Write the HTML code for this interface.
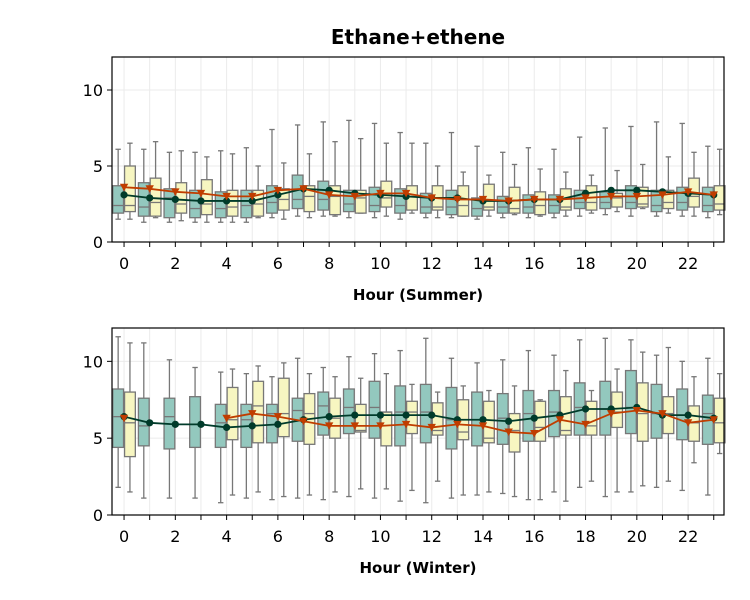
<!DOCTYPE html>
<html><head><meta charset="utf-8"><style>
html,body{margin:0;padding:0;background:#fff;}
svg{display:block;font-family:"DejaVu Sans","Liberation Sans",sans-serif;}
</style></head><body>
<svg id="chart" width="750" height="600" viewBox="0 0 750 600">
<text x="418" y="44" text-anchor="middle" font-size="20" font-weight="bold">Ethane+ethene</text>
</svg>
<script>
const hours = [0,1,2,3,4,5,6,7,8,9,10,11,12,13,14,15,16,17,18,19,20,21,22,23];
const yTicks = [0,5,10];
const xTickLabels = [0,2,4,6,8,10,12,14,16,18,20,22];
// [low, q1, median, q3, high]
const summerTealBoxes = [[1.5,1.9,2.4,3.7,6.1],[1.3,1.7,2.3,3.9,6.1],[1.3,1.6,2.9,3.5,5.9],[1.3,1.6,2.2,3.4,5.9],[1.3,1.6,2.2,3.3,6.0],[1.3,1.6,2.4,3.4,6.2],[1.6,1.9,2.6,3.7,7.4],[1.7,2.2,2.8,4.4,7.7],[1.7,2.1,2.8,4.0,7.9],[1.6,2.0,2.5,3.4,8.0],[1.6,2.0,2.4,3.6,7.8],[1.5,1.9,2.4,3.5,7.2],[1.6,1.9,2.3,3.2,6.5],[1.6,1.8,2.3,3.4,7.2],[1.5,1.7,2.2,2.9,6.3],[1.6,1.9,2.3,3.0,5.9],[1.6,1.9,2.3,3.1,6.2],[1.6,1.9,2.4,3.1,6.1],[1.7,2.2,2.6,3.4,6.9],[1.8,2.2,2.6,3.3,7.5],[1.7,2.2,2.6,3.7,7.6],[1.7,2.0,2.4,3.4,7.9],[1.7,2.1,2.6,3.6,7.8],[1.6,2.0,2.4,3.6,6.3]];
const summerYellowBoxes = [[1.5,2.0,2.4,5.0,6.5],[1.6,1.7,2.6,4.2,6.6],[1.4,1.9,2.5,3.9,6.0],[1.3,1.8,2.5,4.1,5.6],[1.3,1.7,2.3,3.4,5.8],[1.6,1.7,2.5,3.4,5.0],[1.5,2.1,2.8,3.5,5.2],[1.6,2.0,3.0,3.7,5.8],[1.7,1.8,3.0,3.7,6.6],[1.9,1.9,2.9,3.4,6.8],[1.7,2.3,2.9,4.0,6.5],[1.9,2.1,3.0,3.7,6.5],[1.6,2.1,2.3,3.7,5.0],[1.7,1.7,2.4,3.7,4.6],[1.7,2.1,2.3,3.8,4.4],[1.8,1.9,2.2,3.6,5.1],[1.7,1.8,2.4,3.3,4.8],[1.7,2.1,2.3,3.5,4.6],[1.9,2.1,2.6,3.7,4.4],[2.0,2.3,2.9,3.2,4.7],[2.2,2.3,2.5,3.6,5.1],[1.9,2.2,2.6,3.4,5.6],[1.7,2.3,3.0,4.2,5.9],[1.8,2.1,2.5,3.7,6.1]];
const summerTealMeans = [3.1,2.9,2.8,2.7,2.7,2.7,3.1,3.5,3.4,3.2,3.1,3.0,2.9,2.9,2.7,2.7,2.8,2.8,3.2,3.4,3.4,3.3,3.2,3.1];
const summerRedMeans = [3.6,3.5,3.3,3.2,3.0,3.0,3.4,3.5,3.1,3.0,3.2,3.2,2.9,2.8,2.8,2.7,2.8,2.8,2.9,3.0,3.0,3.1,3.3,3.1];
const winterTealBoxes = [[1.8,4.4,6.4,8.2,11.6],[1.1,4.5,5.8,7.6,11.2],[1.1,4.3,6.4,7.6,10.1],[1.1,4.4,5.9,7.7,9.6],[0.8,4.4,6.0,7.2,9.3],[1.1,4.4,6.2,7.2,9.2],[1.0,4.7,6.6,7.2,9.0],[1.1,4.8,6.8,7.6,10.2],[1.0,5.2,7.1,8.0,9.6],[1.2,5.3,7.0,8.2,10.3],[1.1,5.0,7.0,8.7,10.5],[0.9,4.5,6.7,8.4,10.7],[0.8,4.7,6.7,8.5,11.5],[1.1,4.3,6.2,8.3,10.2],[1.3,4.5,6.2,8.0,9.9],[1.4,4.6,6.3,7.9,10.1],[1.0,4.8,6.6,8.1,10.7],[1.5,5.1,6.7,8.1,10.4],[1.8,5.2,7.0,8.6,11.4],[1.2,5.2,6.9,8.7,11.5],[1.5,5.3,7.0,9.4,11.4],[1.8,5.0,6.6,8.5,10.4],[1.6,4.9,6.5,8.2,10.0],[1.3,4.6,6.6,7.8,10.2]];
const winterYellowBoxes = [[1.5,3.8,6.0,8.0,11.2],null,null,null,[1.3,4.9,6.2,8.3,9.5],[1.5,4.7,7.1,8.7,9.7],[1.2,5.1,6.6,8.9,9.9],[1.3,4.6,6.6,7.9,9.2],[1.5,5.0,6.3,7.6,9.0],[1.7,5.4,5.5,7.2,8.9],[1.7,4.5,6.7,6.7,9.2],[1.6,5.3,6.7,7.4,8.5],[2.2,5.2,5.5,7.3,8.0],[1.3,4.9,5.4,7.5,8.4],[1.5,4.7,5.0,7.4,8.1],[1.2,4.1,5.5,6.6,8.4],[1.0,4.8,5.7,7.4,7.5],[0.9,5.2,5.5,7.7,9.4],[2.2,5.2,5.8,7.4,8.1],[1.5,5.7,6.7,8.0,9.5],[1.9,4.8,6.6,8.6,10.6],[2.2,5.3,6.6,7.7,10.9],[3.4,4.8,6.0,7.1,9.0],[4.0,4.7,6.0,7.6,9.2]];
const winterTealMeans = [6.4,6.0,5.9,5.9,5.7,5.8,5.9,6.2,6.4,6.5,6.5,6.5,6.5,6.2,6.2,6.1,6.3,6.5,6.9,6.9,7.0,6.5,6.5,6.3];
const winterRedMeans = [6.3,null,null,null,6.3,6.6,6.4,6.1,5.8,5.8,5.8,5.9,5.7,5.9,5.8,5.4,5.3,6.2,5.9,6.6,6.8,6.6,6.0,6.2];

const NS = 'http://www.w3.org/2000/svg';
const svg = document.getElementById('chart');
function mk(tag, attrs, parent){ const e=document.createElementNS(NS,tag); for(const k in attrs) e.setAttribute(k,attrs[k]); (parent||svg).appendChild(e); return e; }

function panel(p){
  const L=112,R=724,T=p.top,B=p.bottom;
  const xMin=-0.47,xMax=23.4,yMax=12.17;
  const X=h=>L+(h-xMin)/(xMax-xMin)*(R-L);
  const Y=v=>B-v/yMax*(B-T);
  const g=mk('g',{});
  
  
  hours.forEach(h=>{ mk('line',{x1:X(h),x2:X(h),y1:T,y2:B,stroke:'#ebebeb','stroke-width':1},g); });
  yTicks.forEach(v=>{ mk('line',{x1:L,x2:R,y1:Y(v),y2:Y(v),stroke:'#ebebeb','stroke-width':1},g); });
  const bw=(X(0.42)-X(0));
  function box(d,c,fill,nm){
    if(!d) return;
    const bg=mk('g',{},g);
    
    
    const st={stroke:'#777','stroke-width':1.3};
    mk('line',Object.assign({x1:c,x2:c,y1:Y(d[0]),y2:Y(d[1])},st),bg);
    mk('line',Object.assign({x1:c,x2:c,y1:Y(d[3]),y2:Y(d[4])},st),bg);
    mk('line',Object.assign({x1:c-bw/4,x2:c+bw/4,y1:Y(d[0]),y2:Y(d[0])},st),bg);
    mk('line',Object.assign({x1:c-bw/4,x2:c+bw/4,y1:Y(d[4]),y2:Y(d[4])},st),bg);
    mk('rect',Object.assign({x:c-bw/2,y:Y(d[3]),width:bw,height:Y(d[1])-Y(d[3]),fill:fill},st),bg);
    mk('line',Object.assign({x1:c-bw/2,x2:c+bw/2,y1:Y(d[2]),y2:Y(d[2])},st),bg);
  }
  hours.forEach((h,i)=>{
    box(p.teal[i],X(h-0.23),'#93c8be','teal-box-h'+h);
    box(p.yellow[i],X(h+0.23),'#f7f6c1','yellow-box-h'+h);
  });
  function series(vals,color,marker,nm){
    const sg=mk('g',{},g);
    
    
    let seg=[];
    const segs=[];
    vals.forEach((v,i)=>{ if(v==null){ if(seg.length) segs.push(seg); seg=[]; } else seg.push([X(hours[i]),Y(v)]); });
    if(seg.length) segs.push(seg);
    segs.forEach(s=>{ if(s.length>1) mk('polyline',{points:s.map(q=>q.join(',')).join(' '),fill:'none',stroke:color,'stroke-width':1.8},sg); });
    vals.forEach((v,i)=>{
      if(v==null) return;
      const x=X(hours[i]),y=Y(v);
      let m;
      if(marker==='circle') m=mk('circle',{cx:x,cy:y,r:3.6,fill:color},sg);
      else m=mk('polygon',{points:`${x-4.2},${y-3.5} ${x+4.2},${y-3.5} ${x},${y+4}`,fill:color},sg);
      
      
    });
  }
  series(p.tealMean,'#003b2a','circle','teal-mean-line');
  series(p.redMean,'#c03d00','tri','red-mean-line');
  mk('rect',{x:L,y:T,width:R-L,height:B-T,fill:'none',stroke:'#000','stroke-width':1.2},g);
  hours.forEach(h=>{ mk('line',{x1:X(h),x2:X(h),y1:B,y2:B+5,stroke:'#000','stroke-width':1},g); });
  xTickLabels.forEach(h=>{
    const t=mk('text',{x:X(h),y:B+27,'text-anchor':'middle','font-size':16},g); t.textContent=h;
    
    
  });
  yTicks.forEach(v=>{
    mk('line',{x1:L-5,x2:L,y1:Y(v),y2:Y(v),stroke:'#000','stroke-width':1},g);
    const t=mk('text',{x:L-9,y:Y(v)+6,'text-anchor':'end','font-size':16},g); t.textContent=v;
    
    
  });
  const xl=mk('text',{x:(L+R)/2,y:B+58,'text-anchor':'middle','font-size':15,'font-weight':'bold'},g);
  xl.textContent=p.xlabel;
  
  
}
panel({name:'summer-panel',top:57,bottom:242,teal:summerTealBoxes,yellow:summerYellowBoxes,tealMean:summerTealMeans,redMean:summerRedMeans,xlabel:'Hour (Summer)'});
panel({name:'winter-panel',top:328,bottom:515,teal:winterTealBoxes,yellow:winterYellowBoxes,tealMean:winterTealMeans,redMean:winterRedMeans,xlabel:'Hour (Winter)'});
</script>
</body></html>
